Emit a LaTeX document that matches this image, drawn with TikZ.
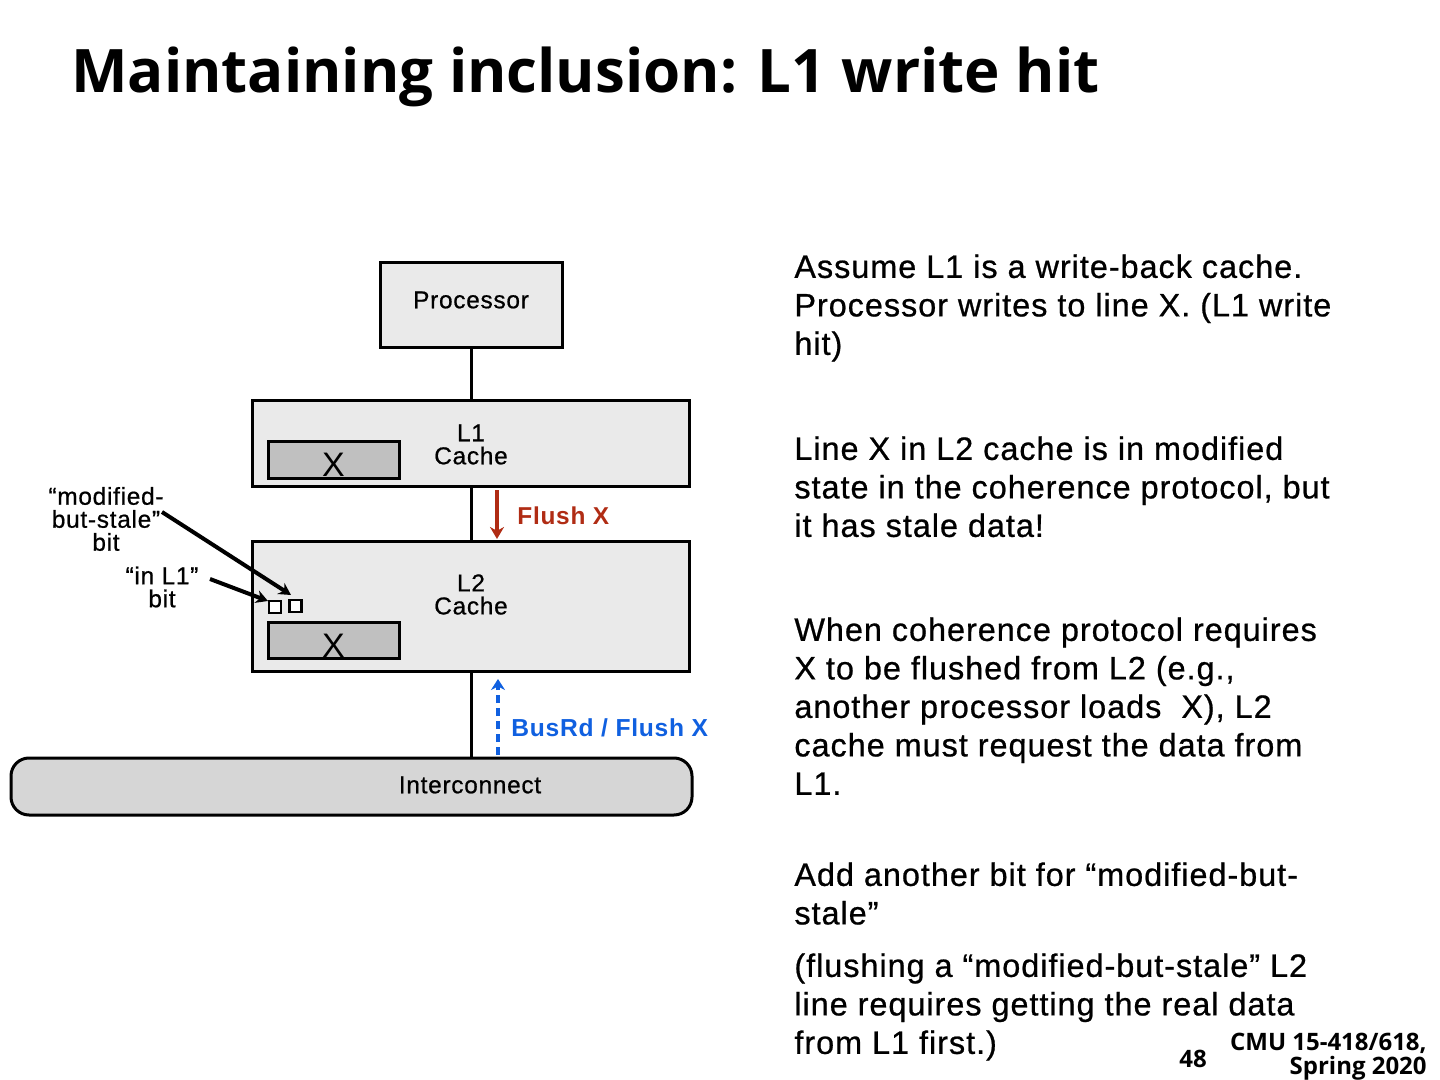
\documentclass[tikz,border=0pt]{standalone}
\usepackage{fontspec}
\setmainfont[LetterSpace=3]{Liberation Sans}
\newfontfamily\bodyfont[LetterSpace=3,FakeBold=0.7]{Liberation Sans}
\newfontfamily\titlefont{Open Sans}
\usetikzlibrary{arrows.meta}
\definecolor{flushred}{RGB}{176,44,20}
\definecolor{busblue}{RGB}{16,96,224}
\definecolor{cachefill}{RGB}{234,234,234}
\definecolor{linefill}{RGB}{192,192,192}
\definecolor{busfill}{RGB}{214,214,214}
\tikzset{
  unitbox/.style={draw,line width=1.5pt,fill=cachefill,inner sep=0pt},
  linebox/.style={draw,line width=1.5pt,fill=linefill,inner sep=0pt,minimum width=65.5pt,minimum height=18pt},
  bitbox/.style={draw,line width=1.2pt,fill=white,inner sep=0pt,minimum size=6pt},
  wire/.style={line width=1.5pt},
  small/.style={font=\bodyfont\fontsize{12.2}{11.5}\selectfont,align=center,inner sep=0pt},
  body/.style={font=\bodyfont\fontsize{16.2}{19.25}\selectfont,align=left,anchor=north west,inner sep=0pt},
  pointer/.style={line width=2pt,-{Stealth[length=6pt,width=6.5pt]}}
}
\begin{document}
\begin{tikzpicture}[x=0.5pt,y=-0.5pt]
\useasboundingbox (0,0) rectangle (1440,1080);
\node[anchor=base west,inner sep=0pt,font=\titlefont\fontsize{30}{30}\selectfont\bfseries] (title) at (71,93) {Maintaining inclusion: L1 write hit};
% the boxes
\node[unitbox,minimum width=91pt,minimum height=42.5pt] (proc) at (471,305.5) {};
\node[small] (proctext) at (471,300) {Processor};
\node[unitbox,minimum width=218.5pt,minimum height=42.5pt] (lone) at (470.5,443.5) {};
\node[small] (lonetext) at (471,444.5) {L1\\Cache};
\node[unitbox,minimum width=218.5pt,minimum height=65pt] (ltwo) at (470.5,606) {};
\node[small] (ltwotext) at (471,594.5) {L2\\Cache};
\node[draw,line width=1.5pt,fill=busfill,rounded corners=9pt,minimum width=340.5pt,minimum height=28.5pt,inner sep=0pt] (bus) at (351.5,786.5) {};
\node[small] (bustext) at (470,785) {Interconnect};
\node[linebox] (xone) at (333.5,460) {};
\node[linebox] (xtwo) at (333.5,640) {};
\node[font=\fontsize{17}{17}\selectfont,inner sep=0pt] (xonetext) at (333.5,465) {X};
\node[font=\fontsize{17}{17}\selectfont,inner sep=0pt] (xtwotext) at (333.5,646) {X};
\node[bitbox] (inbit) at (275,607) {};
\node[bitbox] (modbit) at (295.5,606) {};
% connections
\draw[wire] (proc.south)--(proc.south|-lone.north);
\draw[wire] (proc.south|-lone.south)--(proc.south|-ltwo.north);
\draw[wire] (proc.south|-ltwo.south)--(proc.south|-bus.north);
% flush arrows
\coordinate (redfrom) at (497,490);
\coordinate (redto) at (497,539);
\coordinate (bluefrom) at (498,755);
\coordinate (blueto) at (498,679);
\draw[flushred,line width=2pt,-{Stealth[length=6pt,width=7pt]}] (redfrom)--(redto);
\draw[busblue,line width=2pt,dash pattern=on 4pt off 2.5pt,-{Stealth[length=5.5pt,width=7pt]}] (bluefrom)--(blueto);
\node[small,anchor=west,text=flushred,font=\fontsize{12.2}{12}\selectfont\bfseries] (flushtext) at (517,516) {Flush X};
\node[small,anchor=west,text=busblue,font=\fontsize{12.3}{12}\selectfont\bfseries] (rdtext) at (511,728) {BusRd / Flush X};
% side labels
\node[small] (modtext) at (106,519) {“modified-\\but-stale”\\bit};
\node[small] (intext) at (162,587) {“in L1”\\bit};
\coordinate (modfrom) at (162,512);
\coordinate (modto) at (291,595);
\coordinate (infrom) at (210,579);
\coordinate (into) at (268,601);
\draw[pointer] (modfrom)--(modto);
\draw[pointer] (infrom)--(into);
% right column
\node[body] (assume) at (794,254) {Assume L1 is a write-back cache.\\Processor writes to line X. (L1 write\\hit)};
\node[body] (stale) at (794,436) {Line X in L2 cache is in modified\\state in the coherence protocol, but\\it has stale data!};
\node[body] (when) at (794,617) {When coherence protocol requires\\X to be flushed from L2 (e.g.,\\another processor loads~ X), L2\\cache must request the data from\\L1.};
\node[body] (add) at (794,862) {Add another bit for “modified-but-\\stale”};
\node[body] (flushing) at (794,953) {(flushing a “modified-but-stale” L2\\line requires getting the real data\\from L1 first.)};
% footer
\node[anchor=base,inner sep=0pt,font=\titlefont\bfseries\fontsize{12}{12}\selectfont] (pagenum) at (1193,1067) {48};
\node[anchor=north east,inner sep=0pt,align=right,font=\titlefont\bfseries\fontsize{12}{12}\selectfont] (course) at (1427,1033) {CMU 15-418/618,\\Spring 2020};
\end{tikzpicture}
\end{document}
